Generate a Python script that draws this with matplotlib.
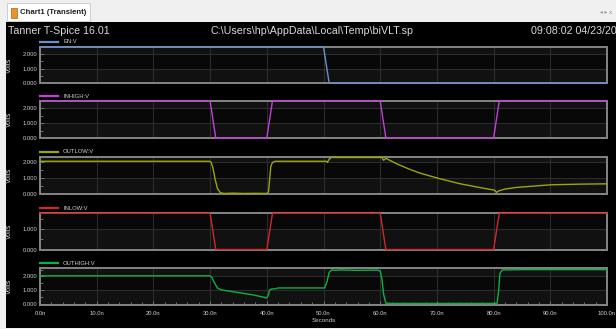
import matplotlib
matplotlib.use("Agg")
import matplotlib.pyplot as plt
from matplotlib.patches import Rectangle
from matplotlib.ticker import MultipleLocator, FormatStrFormatter

# time axis in ns
t_en = [0, 50, 51, 100]
v_en = [2.5, 2.5, 0.0, 0.0]

t_in = [0, 30, 31, 40, 41, 60, 61, 80, 81, 100]
v_inhigh = [2.5, 2.5, 0.0, 0.0, 2.5, 2.5, 0.0, 0.0, 2.5, 2.5]
v_inlow = [1.8, 1.8, 0.0, 0.0, 1.8, 1.8, 0.0, 0.0, 1.8, 1.8]

t_outlow = [0, 29.9, 30.2, 30.5, 30.9, 31.3, 31.8, 32.5, 34, 36, 38, 40, 40.3, 40.5,
            40.7, 41.0, 41.5, 50.5, 50.7, 51.0, 51.5, 52, 60.3, 60.6, 61.0, 63, 65.4,
            67, 70, 74, 77, 80.2, 80.5, 81, 82, 84, 87, 90, 95, 100]
v_outlow = [2.02, 2.02, 1.95, 1.6, 0.9, 0.35, 0.1, 0.05, 0.07, 0.05, 0.06, 0.05, 0.15, 0.9,
            1.7, 1.95, 2.02, 2.02, 1.95, 2.15, 2.27, 2.25, 2.25, 2.08, 2.2, 1.85, 1.5,
            1.3, 1.0, 0.65, 0.45, 0.25, 0.12, 0.22, 0.32, 0.42, 0.5, 0.58, 0.62, 0.64]

t_outhigh = [0, 30, 30.3, 30.7, 31.3, 32, 35, 37.5, 39.6, 39.9, 40.2, 40.5, 40.8, 41.5,
             42, 50.2, 50.6, 51.0, 51.5, 52, 53, 56, 59.5, 60.0, 60.3, 60.6, 61.0, 62,
             70, 80.4, 80.6, 80.9, 81.1, 81.5, 85, 100]
v_outhigh = [2.05, 2.05, 1.95, 1.6, 1.15, 1.02, 0.82, 0.66, 0.47, 0.42, 0.55, 1.0, 1.08, 1.1,
             1.16, 1.16, 1.6, 2.3, 2.5, 2.45, 2.48, 2.45, 2.47, 2.4, 1.8, 0.7, 0.05, 0.03,
             0.03, 0.03, -0.03, 1.0, 2.2, 2.48, 2.5, 2.5]

names = ["EN:V", "INHIGH:V", "OUTLOW:V", "INLOW:V", "OUTHIGH:V"]
colors = ["#6a8fd0", "#c040d8", "#9aa60c", "#d02828", "#10b040"]
series = [(t_en, v_en), (t_in, v_inhigh), (t_outlow, v_outlow), (t_in, v_inlow), (t_outhigh, v_outhigh)]
ylims = [(0, 2.5), (0, 2.5), (0, 2.3), (0, 1.8), (-0.05, 2.6)]
yticks = [[0, 1, 2], [0, 1, 2], [0, 1, 2], [0, 1], [0, 1, 2]]
x_ticks = list(range(0, 101, 10))
x_labels = ["%.1fn" % x for x in x_ticks]

# panel rows in pixels (top, bottom)
rows = [(46.7, 83.3), (101, 138), (156.7, 194.3), (213.3, 249.5), (268.3, 304.5)]
W, H = 616, 329

fig = plt.figure(figsize=(W / 100, H / 100), dpi=100)
fig.patch.set_facecolor("#f0f0f0")
plt.rcParams['font.family'] = ['Liberation Sans', 'DejaVu Sans']

# black chart panel (behind the axes)
fig.add_artist(Rectangle((6 / W, 1 - 327.5 / H), 610 / W, 305.5 / H, zorder=-10,
                         transform=fig.transFigure, facecolor="black", edgecolor="none"))
# tab
fig.add_artist(Rectangle((7 / W, 1 - 21 / H), 83 / W, 18 / H, transform=fig.transFigure,
                         facecolor="white", edgecolor="#c8c8c8", lw=0.6, zorder=-5))
fig.add_artist(Rectangle((11 / W, 1 - 18 / H), 6 / W, 10 / H, transform=fig.transFigure,
                         facecolor="#e8952a", edgecolor="#b06010", lw=0.5))
fig.text(20 / W, 1 - 13 / H, "Chart1 (Transient)", fontsize=5.6, weight="bold",
         color="#202020", va="center", ha="left")
fig.text(612 / W, 1 - 13 / H, "◂ ▸ x", fontsize=4, color="#909090", va="center", ha="right",
         family=["DejaVu Sans"])

# header line
fig.text(8 / W, 1 - 31 / H, "Tanner T-Spice 16.01", fontsize=7.7, color="#d8d8d8",
         va="center", ha="left")
fig.text(312 / W, 1 - 31 / H, "C:\\Users\\hp\\AppData\\Local\\Temp\\biVLT.sp", fontsize=7.7,
         color="#d8d8d8", va="center", ha="center")
fig.text(531 / W, 1 - 31 / H, "09:08:02 04/23/20", fontsize=7.7, color="#d8d8d8",
         va="center", ha="left")

left = 40 / W
width = 567 / W
for i, (name, col, (t, v), yl, yt, (top, bot)) in enumerate(zip(names, colors, series, ylims, yticks, rows)):
    ax = fig.add_axes([left, 1 - bot / H, width, (bot - top) / H])
    ax.set_facecolor("#080808")
    ax.axhspan(yl[0], 1, color="#111111", zorder=0, lw=0)
    if yl[1] > 2:
        ax.axhspan(2, yl[1], color="#111111", zorder=0, lw=0)
    # traces sit on top of the frame, like the simulator draws them
    ax.plot(t, v, color=col, lw=1.0, zorder=4, clip_on=False)
    ax.set_xlim(0, 100)
    ax.set_ylim(*yl)
    ax.set_xticks(x_ticks)
    ax.xaxis.set_minor_locator(MultipleLocator(2))
    ax.set_yticks(yt)
    ax.yaxis.set_minor_locator(MultipleLocator(0.5))
    ax.yaxis.set_major_formatter(FormatStrFormatter("%.3f"))
    ax.grid(True, which="major", color="#2c2c2c", lw=0.8)
    for s in ax.spines.values():
        s.set_color("#858585")
        s.set_linewidth(1.4)
    ax.tick_params(axis="y", which="both", direction="in", colors="#808080", labelcolor="#d0d0d0",
                   labelsize=4.2, length=3, width=0.6, pad=2)
    ax.tick_params(axis="y", which="minor", length=2)
    if i == len(names) - 1:
        ax.set_xticklabels(x_labels)
        ax.tick_params(axis="x", which="both", direction="in", colors="#808080", labelcolor="#d0d0d0",
                       labelsize=4.2, length=3, width=0.6, pad=5)
        ax.tick_params(axis="x", which="minor", length=2)
        ax.set_xlabel("Seconds", fontsize=4.5, color="#d0d0d0", labelpad=1)
    else:
        ax.tick_params(axis="x", which="both", length=0, labelbottom=False)
    ax.set_ylabel("Volts", fontsize=5, color="#d0d0d0", labelpad=1)
    ax.yaxis.set_label_coords(-0.047, 0.5)
    # legend entry above panel
    ly = 1 - (top - 5) / H
    fig.add_artist(plt.Line2D([40 / W, 58 / W], [ly, ly], transform=fig.transFigure, color=col, lw=1.6))
    fig.text(63 / W, ly, name, fontsize=4.2, color="#d0d0d0", va="center", ha="left")

fig.savefig("out.png", dpi=100, facecolor=fig.get_facecolor())
